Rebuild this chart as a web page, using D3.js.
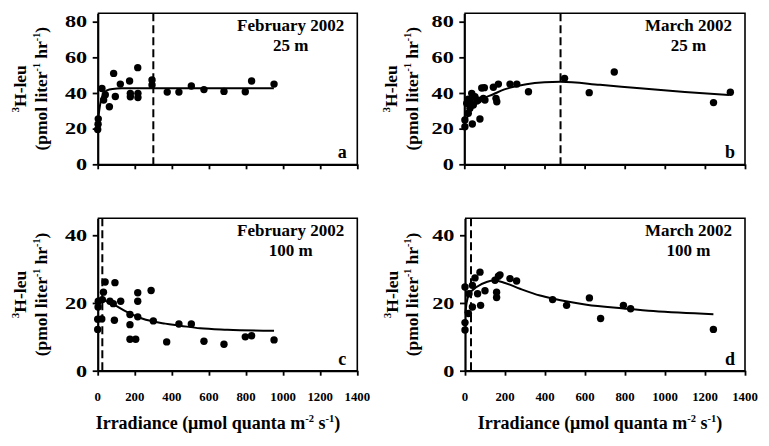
<!DOCTYPE html>
<html><head><meta charset="utf-8">
<script src="https://cdn.jsdelivr.net/npm/d3@7"></script>
<style>
body{margin:0;background:#fff}
svg{display:block}
text{font-weight:bold;fill:#000}
</style>
</head><body>
<svg id="chart" width="769" height="446"></svg>
<script>
// ---------- data ----------
const xTicks = [0, 200, 400, 600, 800, 1000, 1200, 1400];
const yTicksTop = [0, 20, 40, 60, 80];
const yTicksBottom = [0, 20, 40];
const months = ["February 2002", "March 2002", "February 2002", "March 2002"];
const depths = ["25 m", "25 m", "100 m", "100 m"];
const letters = ["a", "b", "c", "d"];
const thresholds = [300, 480, 25, 30];

// [irradiance, 3H-leu]
const febShallowPts = [[0,19.5],[2,22.5],[3,25.5],[23,42.5],[32,36],[41,39],[63,32.3],[86,51],[95,38],[122,45],[172,46.7],[176,39.8],[176,37.9],[216,54.2],[217,39.8],[217,37.5],[293,47.3],[293,44.5],[375,40.5],[438,40.5],[505,43.9],[573,41.9],[681,40.9],[796,40.7],[830,46.7],[951,45]];
const febShallowFit = [[0,22],[8,30],[18,36],[30,39.5],[50,41.5],[80,42.3],[130,42.6],[950,42.6]];

const marShallowPts = [[3,21.1],[3,24.9],[20,28.6],[40,22.6],[78,25.4],[12,34.2],[20,36.5],[28,31.4],[28,36],[37,39.8],[45,33.3],[53,37.9],[62,35.5],[70,36],[87,42.8],[95,37],[100,43],[103,36],[145,43.2],[158,37],[162,35.1],[170,45],[228,45],[262,45],[320,40.7],[500,48.2],[623,40.2],[748,51.8],[1243,34.6],[1327,40.4]];
const marShallowFit = [[0,22],[10,25],[30,30],[50,33],[80,36],[145,39.3],[200,42],[310,44.9],[400,46],[480,46.3],[677,44.6],[876,42.6],[1100,40.6],[1320,38.9]];

const febDeepPts = [[0,12.2],[0,15.2],[2,18.8],[3,20.5],[22,15.3],[25,21],[31,23.2],[40,26.2],[66,20.5],[84,19.8],[90,14.9],[93,26],[124,20.5],[174,16.6],[174,13.6],[174,9.3],[205,9.3],[216,23],[216,20.5],[216,15.9],[288,23.7],[300,14.7],[372,8.5],[438,13.8],[505,13.8],[573,8.7],[681,7.8],[796,10],[830,10.3],[951,9.1]];
const febDeepFit = [[25,21],[77,19.8],[149,17.6],[239,15.4],[364,13.9],[445,13.3],[552,12.5],[700,12.1],[951,11.8]];

const marDeepPts = [[0,24.7],[0,14.2],[0,12],[17,16.9],[20,22.7],[37,18.8],[37,25.2],[50,27.4],[75,29.1],[63,22.7],[78,19.3],[100,23.6],[158,23.2],[158,21.6],[150,26.7],[167,27.9],[175,28.3],[225,27.2],[258,26.5],[438,21],[508,19.3],[622,21.5],[678,15.4],[792,19.3],[828,18.3],[1242,12.2]];
const marDeepFit = [[2,17],[8,20],[20,22.5],[58,24.7],[108,26.2],[150,26.6],[200,25.9],[275,24.2],[375,22.2],[438,21.3],[608,19.5],[792,18.4],[942,17.6],[1242,16.7]];

// ---------- layout ----------
const FONT = "'Liberation Serif', 'Times New Roman', serif";
const svg = d3.select("#chart");
const panels = [
  {pts: febShallowPts, fit: febShallowFit, i: 0, yMax: 84.7, yTicks: yTicksTop, L: 97.7, R: 357.3, T: 13.3, B: 164.3, xLab: false, titleDx: -71.7},
  {pts: marShallowPts, fit: marShallowFit, i: 1, yMax: 84.7, yTicks: yTicksTop, L: 464.3, R: 745, T: 13.3, B: 164.3, xLab: false, titleDx: -67.3},
  {pts: febDeepPts, fit: febDeepFit, i: 2, yMax: 45, yTicks: yTicksBottom, L: 97.7, R: 357.3, T: 218.3, B: 370.7, xLab: true, titleDx: -71.7},
  {pts: marDeepPts, fit: marDeepFit, i: 3, yMax: 45, yTicks: yTicksBottom, L: 465, R: 745, T: 218.3, B: 370.7, xLab: true, titleDx: -67.3}
];

panels.forEach(p => {
  const x = d3.scaleLinear().domain([0, 1400]).range([p.L, p.R]);
  const y = d3.scaleLinear().domain([0, p.yMax]).range([p.B, p.T]);
  const g = svg.append("g").attr("font-family", FONT);

  // frame (top & right)
  g.append("path")
    .attr("d", `M${p.L},${p.T}H${p.R}V${p.B}`)
    .attr("fill", "none").attr("stroke", "#000").attr("stroke-width", 1.6);

  // x axis
  const xa = g.append("g").attr("transform", `translate(0,${p.B})`)
    .call(d3.axisBottom(x).tickValues(xTicks).tickSize(5).tickSizeOuter(0).tickFormat(""));
  xa.select(".domain").attr("stroke-width", 2.2);
  xa.selectAll(".tick line").attr("stroke-width", 1.8);

  if (p.xLab) {
    g.selectAll(".xl").data(xTicks).enter().append("text")
      .attr("font-family", FONT)
      .attr("transform", d => `translate(${x(d)},${p.B + 30}) scale(0.95,1)`)
      .attr("text-anchor", "middle").attr("font-size", 13.5)
      .text(d => d);
  }

  // y axis
  const ya = g.append("g").attr("transform", `translate(${p.L},0)`)
    .call(d3.axisLeft(y).tickValues(p.yTicks).tickSize(5).tickSizeOuter(0).tickFormat(""));
  ya.select(".domain").attr("stroke-width", 2.2);
  ya.selectAll(".tick line").attr("stroke-width", 1.8);
  g.selectAll(".yl").data(p.yTicks).enter().append("text")
    .attr("font-family", FONT)
    .attr("transform", d => `translate(${p.L - 10.5},${y(d) + 5.8}) scale(1.35,1)`)
    .attr("text-anchor", "end").attr("font-size", 16.5)
    .text(d => d);

  // y title
  const cy = (p.T + p.B) / 2;
  const t1 = g.append("text").attr("font-family", FONT)
    .attr("transform", `translate(${p.L + p.titleDx},${cy}) rotate(-90)`)
    .attr("text-anchor", "middle").attr("font-size", 17.5);
  t1.append("tspan").attr("font-size", 11).attr("dy", -7).text("3");
  t1.append("tspan").attr("dy", 7).text("H-leu");
  const t2 = g.append("text").attr("font-family", FONT)
    .attr("transform", `translate(${p.L + p.titleDx + 20.5},${cy}) rotate(-90)`)
    .attr("text-anchor", "middle").attr("font-size", 17.5);
  t2.append("tspan").text("(pmol liter");
  t2.append("tspan").attr("font-size", 10).attr("dy", -7).text("-1");
  t2.append("tspan").attr("dy", 7).text(" hr");
  t2.append("tspan").attr("font-size", 10).attr("dy", -7).text("-1");
  t2.append("tspan").attr("dy", 7).text(")");

  // dashed threshold
  g.append("line")
    .attr("x1", x(thresholds[p.i])).attr("x2", x(thresholds[p.i]))
    .attr("y1", p.T).attr("y2", p.B)
    .attr("stroke", "#000").attr("stroke-width", 2).attr("stroke-dasharray", "8,4");

  // fitted curve
  g.append("path").datum(p.fit)
    .attr("d", d3.line().x(d => x(d[0])).y(d => y(d[1])).curve(d3.curveMonotoneX))
    .attr("fill", "none").attr("stroke", "#000").attr("stroke-width", 2);

  // points
  g.selectAll(".pt").data(p.pts).enter().append("circle")
    .attr("cx", d => x(d[0])).attr("cy", d => y(d[1])).attr("r", 3.7).attr("fill", "#000");

  // annotations
  const mt = g.append("text").attr("font-family", FONT)
    .attr("x", p.R - 13).attr("y", p.T + 18).attr("text-anchor", "end")
    .attr("font-size", 17).text(months[p.i]);
  const w = mt.node().getComputedTextLength();
  g.append("text").attr("font-family", FONT)
    .attr("x", p.R - 13 - w / 2).attr("y", p.T + 37.5).attr("text-anchor", "middle")
    .attr("font-size", 17).text(depths[p.i]);
  g.append("text").attr("font-family", FONT)
    .attr("x", p.R - 15).attr("y", p.B - 6).attr("text-anchor", "middle")
    .attr("font-size", 18).text(letters[p.i]);
});

// x axis titles
[218, 600].forEach(cx => {
  const t = svg.append("text").attr("font-family", FONT)
    .attr("x", cx).attr("y", 428.5).attr("text-anchor", "middle").attr("font-size", 18);
  t.append("tspan").text("Irradiance (\u03BCmol quanta m");
  t.append("tspan").attr("font-size", 10.5).attr("dy", -7).text("-2");
  t.append("tspan").attr("dy", 7).text(" s");
  t.append("tspan").attr("font-size", 10.5).attr("dy", -7).text("-1");
  t.append("tspan").attr("dy", 7).text(")");
});
</script>
</body></html>
